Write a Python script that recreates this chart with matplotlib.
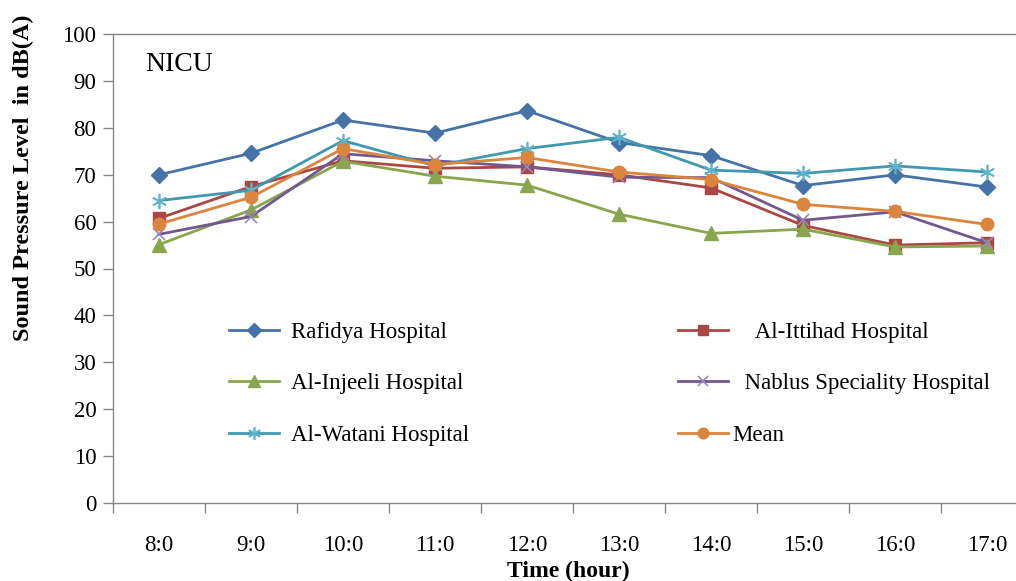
import numpy as np
import matplotlib
matplotlib.use("Agg")
import matplotlib.pyplot as plt

plt.rcParams["font.family"] = ["Liberation Serif", "DejaVu Serif"]

hours = ["8:0", "9:0", "10:0", "11:0", "12:0", "13:0", "14:0", "15:0", "16:0", "17:0"]

rafidya = [70.0, 74.6, 81.7, 78.9, 83.7, 76.9, 74.1, 67.7, 70.0, 67.4]
ittihad = [60.7, 67.5, 73.0, 71.4, 71.7, 70.0, 67.2, 59.2, 55.0, 55.5]
injeeli = [55.1, 62.5, 72.9, 69.7, 67.8, 61.6, 57.5, 58.4, 54.6, 54.8]
nablus = [57.3, 61.1, 74.5, 73.0, 71.7, 69.5, 69.4, 60.3, 62.1, 55.5]
watani = [64.5, 66.7, 77.3, 71.9, 75.6, 78.0, 71.0, 70.3, 71.9, 70.6]
mean = [59.5, 65.2, 75.6, 72.2, 73.7, 70.6, 69.0, 63.7, 62.2, 59.4]

W, H = 1016, 581
fig = plt.figure(figsize=(W / 100, H / 100), dpi=100)
# plot area runs past the right edge, like the cropped original
ax = fig.add_axes([113 / W, (H - 502.7) / H, 920 / W, 468.4 / H])

x = np.arange(len(hours))
lw = 2.0
series = [
    ("Rafidya Hospital", rafidya, "#4572A7", dict(marker="D", ms=8)),
    ("    Al-Ittihad Hospital", ittihad, "#AA4643", dict(marker="s", ms=8.5)),
    ("Al-Injeeli Hospital", injeeli, "#89A54E", dict(marker="^", ms=9.5)),
    ("  Nablus Speciality Hospital", nablus, "#71588F",
     dict(marker="x", ms=9, mew=1.2, mec="#9A86B8")),
    ("Al-Watani Hospital", watani, "#4198AF",
     dict(marker=(6, 2, 0), ms=11, mew=1.2, mec="#5FB3CB")),
    ("Mean", mean, "#DB843D", dict(marker="o", ms=9)),
]
lines = {}
for label, vals, col, mk in series:
    kw = dict(color=col, lw=lw, mfc=col, mec=col)
    kw.update(mk)
    lines[label], = ax.plot(x, vals, label=label, **kw)

ax.set_xlim(-0.5, len(hours) - 0.5)
ax.set_ylim(0, 100)
ax.set_yticks(np.arange(0, 101, 10))
ax.set_xticks(np.arange(-0.5, len(hours), 1))
ax.set_xticklabels([])
ax.set_xticks(x, minor=True)
ax.set_xticklabels(hours, minor=True)

spine_c = "#868686"
for s in ["left", "bottom", "top"]:
    ax.spines[s].set_color(spine_c)
    ax.spines[s].set_linewidth(1.0)
ax.spines["right"].set_visible(False)
ax.tick_params(axis="both", which="major", direction="out", length=7,
               color=spine_c, width=1.0, labelsize=16.5, pad=5)
ax.tick_params(axis="x", which="minor", length=0, labelsize=16.5, pad=23)

ax.text(145 / W, 1 - 64.5 / H, "NICU", transform=fig.transFigure,
        fontsize=20, ha="left", va="center")

fig.text(23 / W, 1 - 178 / H, "Sound Pressure Level  in dB(A)", rotation=90,
         fontsize=17.5, fontweight="bold", ha="center", va="center")
fig.text(568 / W, 1 - 571 / H, "Time (hour)", fontsize=17,
         fontweight="bold", ha="center", va="center")

col1 = ["Rafidya Hospital", "Al-Injeeli Hospital", "Al-Watani Hospital"]
col2 = ["    Al-Ittihad Hospital", "  Nablus Speciality Hospital", "Mean"]
common = dict(frameon=False, fontsize=16.5, handlelength=2.2, labelspacing=1.32,
              borderpad=0, borderaxespad=0, markerscale=0.85, loc="upper left")
leg1 = ax.legend([lines[k] for k in col1], col1, handletextpad=0.5,
                 bbox_to_anchor=(229 / W, 1 - 322 / H),
                 bbox_transform=fig.transFigure, **common)
ax.add_artist(leg1)
ax.legend([lines[k] for k in col2], col2, handletextpad=0.18,
          bbox_to_anchor=(678 / W, 1 - 322 / H),
          bbox_transform=fig.transFigure, **common)

fig.savefig("out.png", dpi=100)
